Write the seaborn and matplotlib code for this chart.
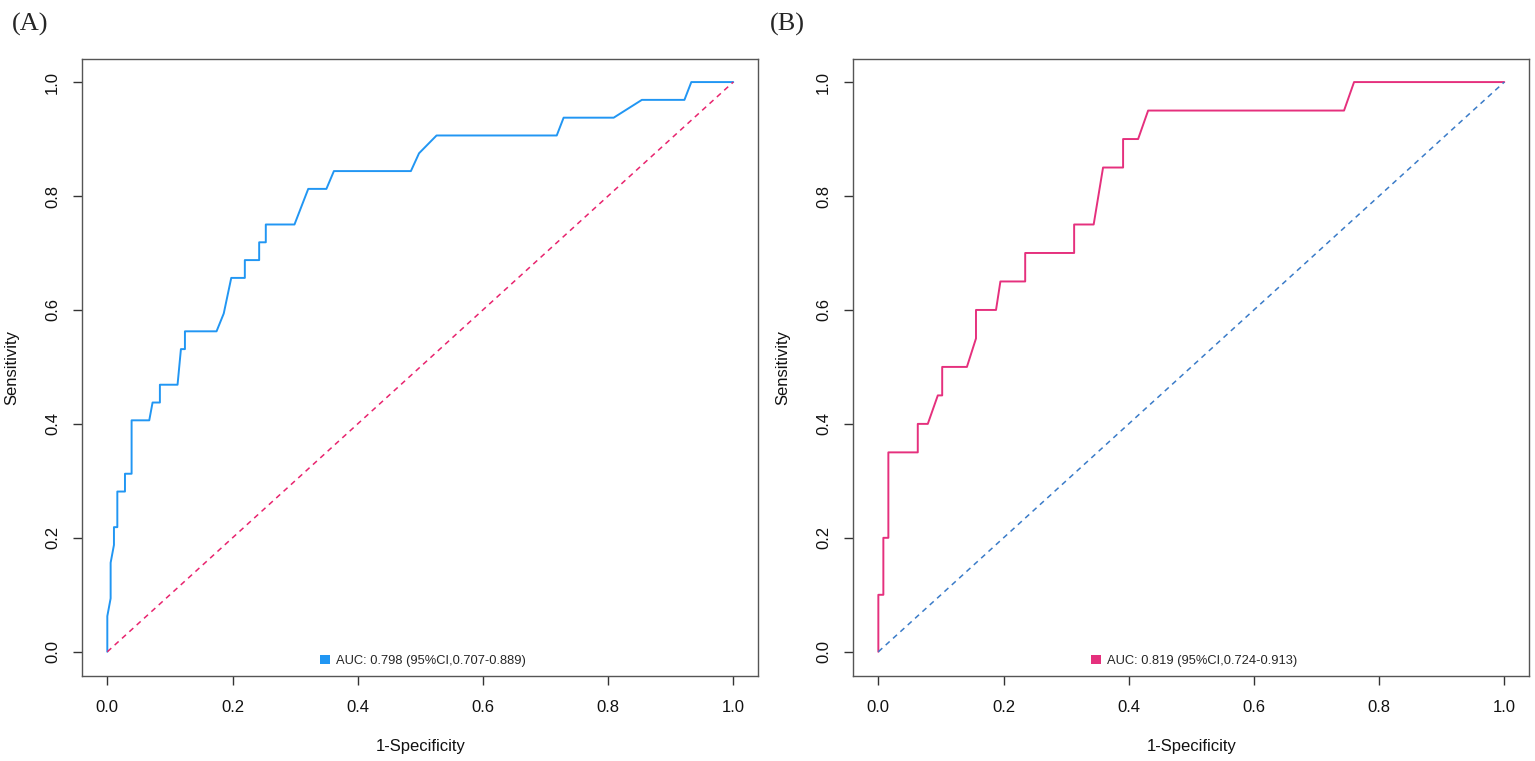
import matplotlib
matplotlib.use("Agg")
import matplotlib.pyplot as plt
import seaborn as sns
import pandas as pd
from matplotlib.patches import Patch

# ROC curve A (1-specificity, sensitivity)
fpr_a = [0.0, 0.0, 0.0053, 0.0053, 0.0106, 0.0106, 0.016, 0.016, 0.0282, 0.0282,
         0.0388, 0.0388, 0.067, 0.0723, 0.084, 0.084, 0.1122, 0.1176, 0.124, 0.124,
         0.1745, 0.186, 0.198, 0.2197, 0.2197, 0.2426, 0.2426, 0.2532, 0.2532, 0.299,
         0.321, 0.35, 0.362, 0.485, 0.498, 0.526, 0.718, 0.729, 0.809, 0.854,
         0.922, 0.933, 1.0]
tpr_a = [0.0, 0.0625, 0.09375, 0.15625, 0.1875, 0.21875, 0.21875, 0.28125, 0.28125, 0.3125,
         0.3125, 0.40625, 0.40625, 0.4375, 0.4375, 0.46875, 0.46875, 0.53125, 0.53125, 0.5625,
         0.5625, 0.59375, 0.65625, 0.65625, 0.6875, 0.6875, 0.71875, 0.71875, 0.75, 0.75,
         0.8125, 0.8125, 0.84375, 0.84375, 0.875, 0.90625, 0.90625, 0.9375, 0.9375, 0.96875,
         0.96875, 1.0, 1.0]

# ROC curve B
fpr_b = [0.0, 0.0, 0.008, 0.008, 0.016, 0.016, 0.063, 0.063, 0.079, 0.095,
         0.102, 0.102, 0.1415, 0.156, 0.156, 0.188, 0.195, 0.2346, 0.2346, 0.3128,
         0.3128, 0.344, 0.359, 0.391, 0.391, 0.415, 0.431, 0.744, 0.760, 1.0]
tpr_b = [0.0, 0.1, 0.1, 0.2, 0.2, 0.35, 0.35, 0.4, 0.4, 0.45,
         0.45, 0.5, 0.5, 0.55, 0.6, 0.6, 0.65, 0.65, 0.7, 0.7,
         0.75, 0.75, 0.85, 0.85, 0.9, 0.9, 0.95, 0.95, 1.0, 1.0]

chance = [0.0, 1.0]
ticks = [0.0, 0.2, 0.4, 0.6, 0.8, 1.0]
tick_labels = ["0.0", "0.2", "0.4", "0.6", "0.8", "1.0"]

labels = ["AUC: 0.798 (95%CI,0.707-0.889)", "AUC: 0.819 (95%CI,0.724-0.913)"]
panel_tags = ["(A)", "(B)"]
curve_colors = ["#2196F3", "#E5307D"]
diag_colors = ["#E8246E", "#3A7BC8"]

sns.set_theme(style="white")
plt.rcParams["font.family"] = ["Liberation Sans", "DejaVu Sans"]

fig = plt.figure(figsize=(15.35, 7.61), dpi=100)
ax_a = fig.add_axes([0.0536, 0.1121, 0.4404, 0.81])
ax_b = fig.add_axes([0.5559, 0.1121, 0.4404, 0.81])

curves = [(fpr_a, tpr_a), (fpr_b, tpr_b)]
for i, ax in enumerate([ax_a, ax_b]):
    fx, ty = curves[i]
    df = pd.DataFrame({"fpr": fx, "tpr": ty})
    sns.lineplot(data=df, x="fpr", y="tpr", sort=False, estimator=None,
                 color=curve_colors[i], linewidth=1.4, ax=ax)
    sns.lineplot(x=chance, y=chance, sort=False, estimator=None,
                 color=diag_colors[i], linewidth=1.1, ax=ax)
    ax.lines[-1].set_dashes((3.5, 3.0))

    ax.set_xlim(-0.04, 1.04)
    ax.set_ylim(-0.042, 1.04)
    ax.set_xticks(ticks)
    ax.set_xticklabels(tick_labels)
    ax.set_yticks(ticks)
    ax.set_yticklabels(tick_labels, rotation=90, va="center")
    ax.tick_params(axis="both", direction="out", length=6.5, width=1,
                   color="#333333", labelsize=12, labelcolor="#111111",
                   bottom=True, left=True)
    ax.tick_params(axis="x", pad=11)
    ax.tick_params(axis="y", pad=9.5)
    for s in ax.spines.values():
        s.set_color("#555555")
        s.set_linewidth(1.0)

    ax.set_xlabel("1-Specificity", fontsize=12, color="#111111")
    ax.set_ylabel("Sensitivity", fontsize=12, color="#111111")
    ax.xaxis.set_label_coords(0.5, -0.103)
    ax.yaxis.set_label_coords(-0.093, 0.5)

    handle = Patch(facecolor=curve_colors[i], edgecolor="none")
    ax.legend([handle], [labels[i]], loc="center", bbox_to_anchor=(0.504, 0.0243),
              frameon=False, fontsize=9.3, handlelength=0.75, handleheight=0.75,
              handletextpad=0.45, borderpad=0, borderaxespad=0)

fig.text(0.0078, 0.968, panel_tags[0], family="Liberation Serif", fontsize=19,
         va="center", ha="left")
fig.text(0.5017, 0.968, panel_tags[1], family="Liberation Serif", fontsize=19,
         va="center", ha="left")

fig.savefig("out.png", dpi=100, facecolor="white")
